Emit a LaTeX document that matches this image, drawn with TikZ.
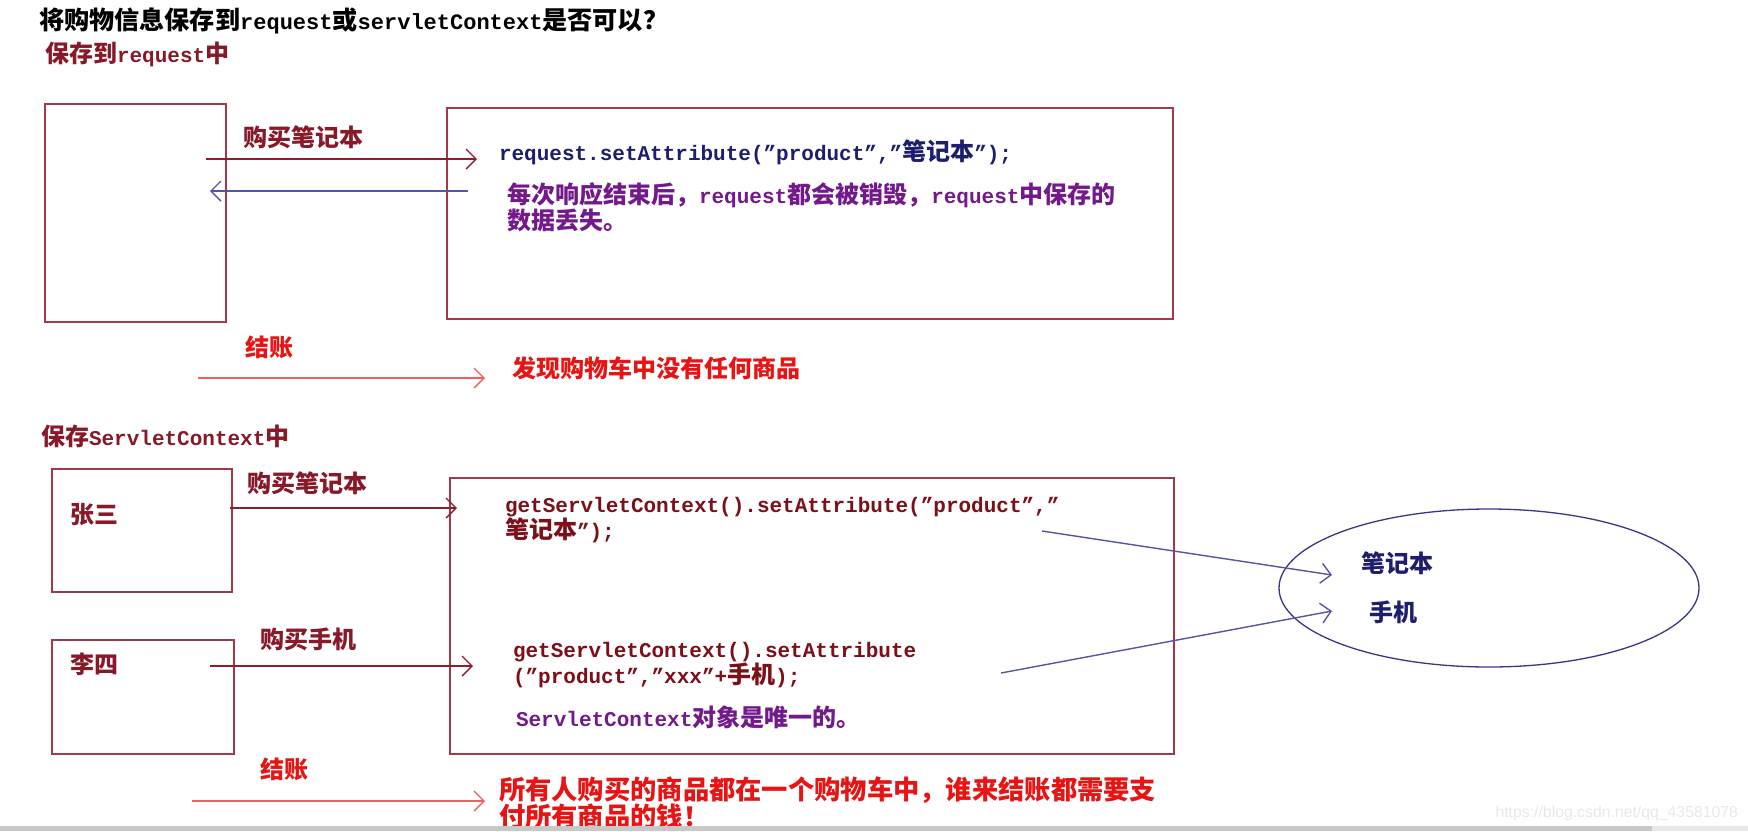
\documentclass[tikz,border=0pt]{standalone}
\usepackage{fontspec}
\setmainfont{Liberation Mono}
\newfontfamily\zhfont{Noto Sans CJK SC}[Scale=1.143]
\newfontfamily\wmfont{Liberation Sans}
\newcommand{\zh}[1]{{\zhfont #1}}
\usetikzlibrary{arrows.meta,shapes.geometric,calc}
\definecolor{hdred}{RGB}{135,25,40}
\definecolor{boxred}{RGB}{165,55,75}
\definecolor{navy}{RGB}{30,30,110}
\definecolor{purp}{RGB}{115,25,140}
\definecolor{brightred}{RGB}{232,20,20}
\definecolor{arrblue}{RGB}{85,85,165}
\definecolor{arrred}{RGB}{240,95,95}
\definecolor{arrdark}{RGB}{140,30,45}
\definecolor{codered}{RGB}{125,15,25}
\definecolor{ellnavy}{RGB}{55,55,135}
\definecolor{wmgray}{RGB}{232,232,232}
\definecolor{barg}{RGB}{200,200,200}
\definecolor{barl}{RGB}{232,232,232}
\tikzset{
  box/.style={draw=boxred, line width=1.5pt, rectangle},
  txt/.style={anchor=west, align=left, font=\bfseries\fontsize{21}{24}\selectfont},
  txttight/.style={anchor=west, align=left, font=\bfseries\fontsize{21}{21.5}\selectfont},
  arrow/.style={line width=1.4pt, -{Straight Barb[length=10pt,width=20pt,line width=1.4pt]}},
}
\begin{document}
\begin{tikzpicture}[x=1pt,y=-1pt, every node/.style={inner sep=0pt, outer sep=0pt}]
\useasboundingbox[fill=white] (0,0) rectangle (1748,831);

% title and section headings
\node[anchor=west, font=\bfseries\fontsize{22}{24}\selectfont, text=black] (title) at (39,21) {\zh{将购物信息保存到}request\zh{或}servletContext\zh{是否可以？}};
\node[txt, text=hdred] (h1) at (45,54) {\zh{保存到}request\zh{中}};
\node[txt, text=hdred] (h2) at (41,436) {\zh{保存}ServletContext\zh{中}};

% ---- request part ----
\node[box, minimum width=181pt, minimum height=218pt] (clientA) at (135.5,213) {};
\node[box, minimum width=726pt, minimum height=211pt] (serverA) at (810,213.5) {};
\node[txt, text=hdred] (buyA) at (243,137) {\zh{购买笔记本}};
\node[txt, text=navy] (codeA) at (499,152) {request.setAttribute("product","\zh{笔记本}");};
\node[txttight, text=purp] (noteA) at (507,207.5) {\zh{每次响应结束后，}request\zh{都会被销毁，}request\zh{中保存的}\\\zh{数据丢失。}};
\coordinate (a1s) at (206,159);
\coordinate (a1e) at (477,159);
\draw[arrow, arrdark] (a1s) -- (a1e);
\coordinate (a2s) at (468,191);
\coordinate (a2e) at (210,191);
\draw[arrow, arrblue] (a2s) -- (a2e);
\node[txt, text=brightred] (payA) at (245,347) {\zh{结账}};
\coordinate (a3s) at (198,378);
\coordinate (a3e) at (485,378);
\draw[arrow, arrred] (a3s) -- (a3e);
\node[txt, text=brightred] (resA) at (512,368) {\zh{发现购物车中没有任何商品}};

% ---- ServletContext part ----
\node[box, minimum width=180pt, minimum height=123pt] (zs) at (142,530.5) {};
\node[box, minimum width=182pt, minimum height=114pt] (ls) at (143,697) {};
\node[box, minimum width=724pt, minimum height=276pt] (serverB) at (812,616) {};
\node[txt, text=hdred] (zsname) at (70,515) {\zh{张三}};
\node[txt, text=hdred] (lsname) at (70,664) {\zh{李四}};
\node[txt, text=hdred] (buyB) at (247,483) {\zh{购买笔记本}};
\node[txt, text=hdred] (buyC) at (260,639) {\zh{购买手机}};
\coordinate (b1s) at (230,508);
\coordinate (b1e) at (457,508);
\draw[arrow, arrdark] (b1s) -- (b1e);
\coordinate (b2s) at (210,666);
\coordinate (b2e) at (473,666);
\draw[arrow, arrdark] (b2s) -- (b2e);
\node[txt, text=codered] (codeB) at (505,520) {getServletContext().setAttribute("product","\\\zh{笔记本}");};
\node[txt, text=codered] (codeC) at (513,665) {getServletContext().setAttribute\\("product","xxx"+\zh{手机});};
\node[txt, text=purp] (noteB) at (516,717) {ServletContext\zh{对象是唯一的。}};

% cart ellipse
\node[draw=ellnavy, ellipse, line width=1.3pt, minimum width=420pt, minimum height=158pt] (cart) at (1489,588) {};
\node[font=\bfseries\fontsize{21}{24}\selectfont, text=navy] (itemA) at (1397,563) {\zh{笔记本}};
\node[font=\bfseries\fontsize{21}{24}\selectfont, text=navy] (itemB) at (1393,612) {\zh{手机}};
\coordinate (c1s) at (1042,531);
\coordinate (c1e) at (1332,575);
\draw[arrow, arrblue] (c1s) -- (c1e);
\coordinate (c2s) at (1001,673);
\coordinate (c2e) at (1332,611);
\draw[arrow, arrblue] (c2s) -- (c2e);

% checkout
\node[txt, text=brightred] (payB) at (260,769) {\zh{结账}};
\coordinate (b3s) at (192,801);
\coordinate (b3e) at (485,801);
\draw[arrow, arrred] (b3s) -- (b3e);
\node[anchor=west, align=left, font=\bfseries\fontsize{23}{20}\selectfont, text=brightred] (resB) at (499,803) {\zh{所有人购买的商品都在一个购物车中，谁来结账都需要支}\\\zh{付所有商品的钱！}};

% watermark and bottom bar
\node[anchor=east, font=\wmfont\fontsize{15.8}{16}\selectfont, text=wmgray] (wm) at (1738,813) {https://blog.csdn.net/qq\_43581078};
\fill[barg] (0,826) rectangle (1652,831);
\fill[barl] (1652,826) rectangle (1748,831);
\end{tikzpicture}
\end{document}
